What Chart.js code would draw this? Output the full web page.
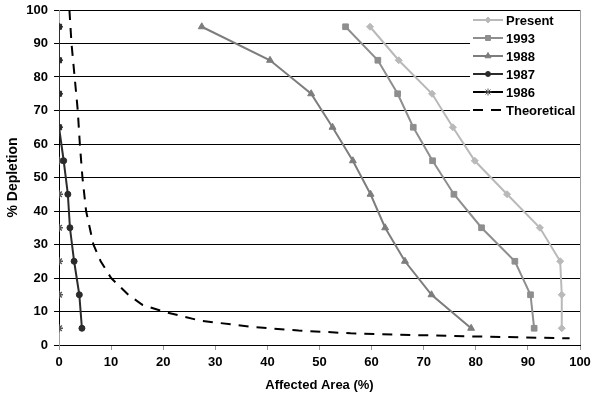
<!DOCTYPE html>
<html>
<head>
<meta charset="utf-8">
<script src="https://cdn.jsdelivr.net/npm/chart.js@4"></script>
<style>
  html, body { margin: 0; padding: 0; background: #fff; }
  #wrap { width: 600px; height: 396px; }
</style>
</head>
<body>
<div id="wrap"><canvas id="chart" width="600" height="396"></canvas></div>
<script>
// Depletion levels shared by the survey series
const depletion = [95, 85, 75, 65, 55, 45, 35, 25, 15, 5];

// Affected area (%) per survey, one value per depletion level
const present = [59.7, 65.2, 71.6, 75.6, 79.8, 86.0, 92.3, 96.2, 96.5, 96.5];
const y1993 = [55.0, 61.2, 65.0, 68.0, 71.7, 75.8, 81.1, 87.5, 90.5, 91.2];
const y1988 = [27.4, 40.5, 48.4, 52.5, 56.4, 59.8, 62.6, 66.4, 71.5, 79.1];
const y1987 = [0, 0, 0, 0, 0.9, 1.7, 2.1, 2.9, 3.9, 4.4];
const y1986 = [0, 0, 0, 0, 0, 0, 0, 0, 0, 0];

// Theoretical curve
const theoX = [2.0, 2.4, 3.0, 3.6, 4.0, 4.5, 5.2, 6.6, 8.0, 10.0, 13.3, 16.0, 20.0, 27.0, 37.0, 46.0, 56.0, 65.0, 78.0, 98.0];
const theoY = [100, 90, 80, 70, 60, 50, 40, 30, 25, 20, 15, 12, 10, 7.3, 5.4, 4.3, 3.5, 3.1, 2.6, 2.0];

const xTicks = [0, 10, 20, 30, 40, 50, 60, 70, 80, 90, 100];
const yTicks = [0, 10, 20, 30, 40, 50, 60, 70, 80, 90, 100];

const FONT = '"Liberation Sans", Arial, sans-serif';

function pairs(xs) {
    return xs.map((x, i) => ({ x: x, y: depletion[i] }));
}

function series(label, xs, color, style, radius) {
    return {
        label: label,
        data: pairs(xs),
        showLine: true,
        borderColor: color,
        backgroundColor: color,
        borderWidth: 2,
        pointStyle: style,
        pointRadius: radius,
        pointBorderWidth: 1,
        pointBorderColor: color
    };
}

const datasets = [
    series('Present', present, '#b9b9b9', 'rectRot', 3.5),
    series('1993', y1993, '#8e8e8e', 'rect', 4),
    series('1988', y1988, '#7d7d7d', 'triangle', 4),
    series('1987', y1987, '#2b2b2b', 'circle', 3),
    series('1986', y1986, '#000000', 'star', 4),
    {
        label: 'Theoretical',
        data: theoX.map((x, i) => ({ x: x, y: theoY[i] })),
        showLine: true,
        borderColor: '#000',
        borderWidth: 2,
        borderDash: [10, 8],
        pointRadius: 0
    }
];
// asterisks a bit heavier and greyer, like the original
datasets[4].pointBorderColor = '#555';
datasets[4].pointBorderWidth = 1.5;

// Plot frame on the right and the boxed legend inside the plot area
const framePlugin = {
    id: 'frame',
    afterDatasetsDraw(chart) {
        const { ctx, chartArea } = chart;
        ctx.save();
        ctx.strokeStyle = '#a0a0a0';
        ctx.lineWidth = 1;
        ctx.beginPath();
        ctx.moveTo(chartArea.right + 0.5, chartArea.top);
        ctx.lineTo(chartArea.right + 0.5, chartArea.bottom);
        ctx.stroke();

        // legend
        const left = 470, top = chartArea.top + 1;
        ctx.fillStyle = '#fff';
        ctx.fillRect(left, top, chartArea.right - left, 110);
        ctx.font = 'bold 13px ' + FONT;
        ctx.textBaseline = 'middle';
        chart.data.datasets.forEach((ds, i) => {
            const y = 20 + i * 18;
            ctx.strokeStyle = ds.borderColor;
            ctx.lineWidth = 2;
            ctx.setLineDash(ds.borderDash || []);
            ctx.beginPath();
            ctx.moveTo(473, y);
            ctx.lineTo(503, y);
            ctx.stroke();
            ctx.setLineDash([]);
            if (ds.pointRadius) {
                ctx.fillStyle = ds.backgroundColor;
                ctx.strokeStyle = ds.pointBorderColor;
                ctx.lineWidth = 1;
                Chart.helpers.drawPoint(ctx, { pointStyle: ds.pointStyle, radius: ds.pointRadius - 0.5, borderWidth: 1 }, 488, y);
            }
            ctx.fillStyle = '#000';
            ctx.fillText(ds.label, 506, y + 1);
        });
        ctx.restore();
    }
};

new Chart(document.getElementById('chart'), {
    type: 'scatter',
    data: { datasets: datasets },
    plugins: [framePlugin],
    options: {
        responsive: false,
        animation: false,
        layout: { padding: { left: 0, right: 20, top: 10, bottom: 0 } },
        plugins: {
            legend: { display: false },
            tooltip: { enabled: false }
        },
        scales: {
            x: {
                type: 'linear',
                min: 0,
                max: 100,
                afterBuildTicks: axis => { axis.ticks = xTicks.map(v => ({ value: v })); },
                afterFit: axis => { axis.height = 51; },
                border: { color: '#000', width: 1 },
                grid: { drawOnChartArea: false, drawTicks: true, tickLength: 5, color: '#999' },
                ticks: {
                    color: '#000',
                    padding: 5,
                    font: { family: FONT, size: 13, weight: 'bold' }
                },
                title: {
                    display: true,
                    text: 'Affected Area (%)',
                    color: '#000',
                    padding: { top: 0, bottom: 3 },
                    font: { family: FONT, size: 13, weight: 'bold' }
                }
            },
            y: {
                type: 'linear',
                min: 0,
                max: 100,
                afterBuildTicks: axis => { axis.ticks = yTicks.map(v => ({ value: v })); },
                afterFit: axis => {
                    axis.width = 59;
                    axis.paddingTop = 0;
                    axis.paddingBottom = 0;
                },
                border: { color: '#a0a0a0', width: 1 },
                grid: { color: '#000', lineWidth: 1, drawTicks: true, tickLength: 5 },
                ticks: {
                    color: '#000',
                    padding: 6,
                    font: { family: FONT, size: 13, weight: 'bold' }
                },
                title: {
                    display: true,
                    text: '% Depletion',
                    color: '#000',
                    padding: { top: 5, bottom: 0 },
                    font: { family: FONT, size: 14, weight: 'bold' }
                }
            }
        }
    }
});
</script>
</body>
</html>
